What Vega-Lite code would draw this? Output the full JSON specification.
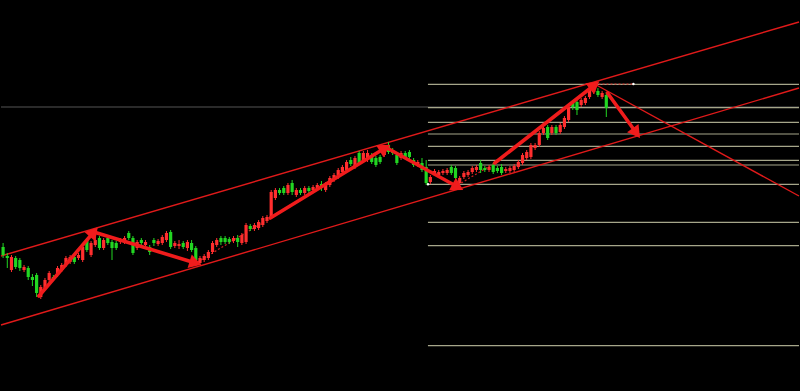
{
  "$schema": "https://vega.github.io/schema/vega-lite/v6.json",
  "width": 800,
  "height": 391,
  "autosize": {"type": "fit", "contains": "padding"},
  "padding": 0,
  "background": "#000000",
  "config": {"view": {"stroke": null}, "scale": {"continuousPadding": 0}},
  "datasets": {
    "candles": [
      {"i":0,"o":153,"c":145,"h":157,"l":142},
      {"i":1,"o":144,"c":142,"h":147,"l":132},
      {"i":2,"o":130,"c":143,"h":145,"l":128},
      {"i":3,"o":142,"c":133,"h":144,"l":131},
      {"i":4,"o":140,"c":132,"h":142,"l":129},
      {"i":5,"o":130,"c":133,"h":135,"l":128},
      {"i":6,"o":132,"c":123,"h":134,"l":120},
      {"i":7,"o":123,"c":120,"h":126,"l":114},
      {"i":8,"o":125,"c":107,"h":127,"l":103},
      {"i":9,"o":103,"c":113,"h":115,"l":101},
      {"i":10,"o":112,"c":120,"h":122,"l":110},
      {"i":11,"o":120,"c":127,"h":129,"l":118},
      {"i":12,"o":123,"c":121,"h":125,"l":119},
      {"i":13,"o":125,"c":132,"h":134,"l":123},
      {"i":14,"o":130,"c":135,"h":137,"l":128},
      {"i":15,"o":135,"c":142,"h":144,"l":133},
      {"i":16,"o":138,"c":143,"h":145,"l":136},
      {"i":17,"o":143,"c":138,"h":145,"l":136},
      {"i":18,"o":142,"c":145,"h":147,"l":140},
      {"i":19,"o":140,"c":153,"h":155,"l":138},
      {"i":20,"o":160,"c":150,"h":162,"l":148},
      {"i":21,"o":145,"c":157,"h":159,"l":143},
      {"i":22,"o":155,"c":160,"h":163,"l":153},
      {"i":23,"o":162,"c":152,"h":164,"l":150},
      {"i":24,"o":152,"c":160,"h":162,"l":150},
      {"i":25,"o":162,"c":157,"h":164,"l":155},
      {"i":26,"o":158,"c":152,"h":160,"l":140},
      {"i":27,"o":157,"c":152,"h":159,"l":150},
      {"i":28,"o":158,"c":160,"h":162,"l":156},
      {"i":29,"o":158,"c":162,"h":164,"l":156},
      {"i":30,"o":167,"c":162,"h":169,"l":160},
      {"i":31,"o":162,"c":147,"h":164,"l":145},
      {"i":32,"o":152,"c":158,"h":160,"l":150},
      {"i":33,"o":160,"c":157,"h":162,"l":155},
      {"i":34,"o":155,"c":158,"h":160,"l":153},
      {"i":35,"o":153,"c":148,"h":155,"l":145},
      {"i":36,"o":160,"c":157,"h":162,"l":154},
      {"i":37,"o":156,"c":159,"h":161,"l":154},
      {"i":38,"o":157,"c":163,"h":165,"l":155},
      {"i":39,"o":160,"c":167,"h":169,"l":158},
      {"i":40,"o":168,"c":153,"h":170,"l":151},
      {"i":41,"o":154,"c":157,"h":159,"l":152},
      {"i":42,"o":154,"c":156,"h":160,"l":151},
      {"i":43,"o":157,"c":153,"h":159,"l":151},
      {"i":44,"o":152,"c":158,"h":160,"l":149},
      {"i":45,"o":157,"c":150,"h":160,"l":148},
      {"i":46,"o":152,"c":140,"h":154,"l":137},
      {"i":47,"o":137,"c":142,"h":144,"l":135},
      {"i":48,"o":140,"c":144,"h":146,"l":138},
      {"i":49,"o":142,"c":148,"h":150,"l":140},
      {"i":50,"o":148,"c":157,"h":159,"l":146},
      {"i":51,"o":155,"c":160,"h":162,"l":153},
      {"i":52,"o":162,"c":158,"h":164,"l":155},
      {"i":53,"o":162,"c":158,"h":164,"l":156},
      {"i":54,"o":161,"c":158,"h":163,"l":156},
      {"i":55,"o":159,"c":162,"h":164,"l":157},
      {"i":56,"o":162,"c":158,"h":165,"l":153},
      {"i":57,"o":157,"c":165,"h":167,"l":155},
      {"i":58,"o":158,"c":175,"h":177,"l":156},
      {"i":59,"o":174,"c":171,"h":176,"l":169},
      {"i":60,"o":171,"c":175,"h":177,"l":169},
      {"i":61,"o":172,"c":178,"h":180,"l":170},
      {"i":62,"o":175,"c":182,"h":184,"l":173},
      {"i":63,"o":179,"c":183,"h":185,"l":177},
      {"i":64,"o":183,"c":208,"h":210,"l":181},
      {"i":65,"o":202,"c":210,"h":212,"l":200},
      {"i":66,"o":210,"c":207,"h":212,"l":205},
      {"i":67,"o":212,"c":207,"h":214,"l":205},
      {"i":68,"o":207,"c":215,"h":217,"l":205},
      {"i":69,"o":217,"c":208,"h":220,"l":205},
      {"i":70,"o":205,"c":210,"h":212,"l":203},
      {"i":71,"o":210,"c":207,"h":212,"l":205},
      {"i":72,"o":207,"c":212,"h":214,"l":205},
      {"i":73,"o":212,"c":209,"h":214,"l":207},
      {"i":74,"o":210,"c":213,"h":215,"l":208},
      {"i":75,"o":211,"c":215,"h":217,"l":209},
      {"i":76,"o":216,"c":212,"h":219,"l":209},
      {"i":77,"o":210,"c":216,"h":218,"l":208},
      {"i":78,"o":215,"c":222,"h":224,"l":213},
      {"i":79,"o":220,"c":225,"h":227,"l":218},
      {"i":80,"o":223,"c":230,"h":232,"l":221},
      {"i":81,"o":228,"c":233,"h":235,"l":225},
      {"i":82,"o":230,"c":238,"h":240,"l":228},
      {"i":83,"o":240,"c":236,"h":243,"l":234},
      {"i":84,"o":233,"c":242,"h":244,"l":231},
      {"i":85,"o":247,"c":237,"h":249,"l":235},
      {"i":86,"o":240,"c":247,"h":249,"l":238},
      {"i":87,"o":240,"c":247,"h":250,"l":238},
      {"i":88,"o":245,"c":238,"h":247,"l":236},
      {"i":89,"o":242,"c":235,"h":244,"l":233},
      {"i":90,"o":243,"c":238,"h":245,"l":236},
      {"i":91,"o":245,"c":250,"h":252,"l":243},
      {"i":92,"o":255,"c":248,"h":258,"l":246},
      {"i":93,"o":250,"c":247,"h":252,"l":245},
      {"i":94,"o":245,"c":237,"h":247,"l":235},
      {"i":95,"o":242,"c":247,"h":249,"l":240},
      {"i":96,"o":247,"c":243,"h":249,"l":241},
      {"i":97,"o":248,"c":243,"h":250,"l":241},
      {"i":98,"o":240,"c":235,"h":242,"l":233},
      {"i":99,"o":235,"c":238,"h":240,"l":233},
      {"i":100,"o":237,"c":230,"h":242,"l":228},
      {"i":101,"o":233,"c":217,"h":240,"l":215},
      {"i":102,"o":218,"c":223,"h":225,"l":216},
      {"i":103,"o":227,"c":229,"h":231,"l":225},
      {"i":104,"o":225,"c":228,"h":230,"l":223},
      {"i":105,"o":227,"c":229,"h":231,"l":225},
      {"i":106,"o":227,"c":230,"h":232,"l":225},
      {"i":107,"o":233,"c":227,"h":235,"l":225},
      {"i":108,"o":232,"c":222,"h":234,"l":220},
      {"i":109,"o":217,"c":222,"h":224,"l":215},
      {"i":110,"o":223,"c":227,"h":229,"l":221},
      {"i":111,"o":225,"c":228,"h":230,"l":223},
      {"i":112,"o":228,"c":232,"h":234,"l":226},
      {"i":113,"o":230,"c":233,"h":235,"l":228},
      {"i":114,"o":237,"c":230,"h":240,"l":227},
      {"i":115,"o":232,"c":230,"h":234,"l":228},
      {"i":116,"o":230,"c":233,"h":235,"l":228},
      {"i":117,"o":235,"c":228,"h":237,"l":226},
      {"i":118,"o":232,"c":229,"h":234,"l":227},
      {"i":119,"o":233,"c":227,"h":236,"l":225},
      {"i":120,"o":229,"c":231,"h":233,"l":227},
      {"i":121,"o":229,"c":232,"h":234,"l":227},
      {"i":122,"o":230,"c":234,"h":236,"l":228},
      {"i":123,"o":233,"c":238,"h":240,"l":231},
      {"i":124,"o":237,"c":245,"h":247,"l":235},
      {"i":125,"o":242,"c":248,"h":250,"l":240},
      {"i":126,"o":243,"c":255,"h":257,"l":241},
      {"i":127,"o":252,"c":255,"h":257,"l":250},
      {"i":128,"o":255,"c":267,"h":269,"l":253},
      {"i":129,"o":267,"c":272,"h":274,"l":265},
      {"i":130,"o":273,"c":262,"h":275,"l":260},
      {"i":131,"o":267,"c":273,"h":275,"l":265},
      {"i":132,"o":273,"c":267,"h":275,"l":265},
      {"i":133,"o":268,"c":275,"h":277,"l":266},
      {"i":134,"o":273,"c":282,"h":284,"l":271},
      {"i":135,"o":280,"c":293,"h":295,"l":278},
      {"i":136,"o":297,"c":293,"h":300,"l":290},
      {"i":137,"o":298,"c":290,"h":300,"l":285},
      {"i":138,"o":295,"c":300,"h":302,"l":293},
      {"i":139,"o":297,"c":302,"h":304,"l":295},
      {"i":140,"o":303,"c":310,"h":312,"l":301},
      {"i":141,"o":308,"c":315,"h":316,"l":306},
      {"i":142,"o":309,"c":305,"h":312,"l":303},
      {"i":143,"o":303,"c":307,"h":309,"l":301},
      {"i":144,"o":305,"c":292,"h":308,"l":283}
    ],
    "arrows": [
      {"id": "a1", "x1": 8.55, "p1": 104, "x2": 21.65, "p2": 168},
      {"id": "a2", "x1": 21.65, "p1": 168, "x2": 45.93, "p2": 137},
      {"id": "a3", "x1": 63.79, "p1": 182, "x2": 91.18, "p2": 252},
      {"id": "a4", "x1": 91.65, "p1": 252, "x2": 108.56, "p2": 213},
      {"id": "a6", "x1": 117.37, "p1": 237, "x2": 141.18, "p2": 315},
      {"id": "a7", "x1": 144.28, "p1": 307, "x2": 151.18, "p2": 267}
    ]
  },
  "layer": [
    {
      "data": {"values": [{"level": 293}]},
      "mark": {"type": "rule", "color": "#555555", "strokeWidth": 1},
      "encoding": {"y": {"field": "level", "type": "quantitative", "scale": {"domain": [9, 400], "nice": false, "zero": false, "padding": 0}, "axis": null}}
    },
    {
      "data": {"values": [
        {"from": 101.42, "to": 190, "level": 315.7},
        {"from": 101.42, "to": 190, "level": 292.3},
        {"from": 101.42, "to": 190, "level": 277.7},
        {"from": 101.42, "to": 190, "level": 266},
        {"from": 101.42, "to": 190, "level": 253.7},
        {"from": 101.42, "to": 190, "level": 239.7},
        {"from": 101.42, "to": 190, "level": 235},
        {"from": 101.42, "to": 190, "level": 215.7},
        {"from": 101.42, "to": 190, "level": 177.7},
        {"from": 101.42, "to": 190, "level": 154.3},
        {"from": 101.42, "to": 190, "level": 54.3}
      ]},
      "mark": {"type": "rule", "color": "#a6a68a", "strokeWidth": 1.2},
      "encoding": {
        "x": {"field": "from", "type": "quantitative", "scale": {"domain": [-0.5, 190], "nice": false, "zero": false, "padding": 0}, "axis": null},
        "x2": {"field": "to"},
        "y": {"field": "level", "type": "quantitative", "scale": {"domain": [9, 400], "nice": false, "zero": false, "padding": 0}, "axis": null}
      }
    },
    {
      "data": {"values": [
        {"x1": -0.5, "p1": 144, "x2": 190, "p2": 378},
        {"x1": -0.5, "p1": 75, "x2": 190, "p2": 312},
        {"x1": 141.18, "p1": 316, "x2": 190, "p2": 204}
      ]},
      "mark": {"type": "rule", "color": "#e01a1a", "strokeWidth": 1.4},
      "encoding": {
        "x": {"field": "x1", "type": "quantitative", "scale": {"domain": [-0.5, 190], "nice": false, "zero": false, "padding": 0}, "axis": null},
        "x2": {"field": "x2"},
        "y": {"field": "p1", "type": "quantitative", "scale": {"domain": [9, 400], "nice": false, "zero": false, "padding": 0}, "axis": null},
        "y2": {"field": "p2"}
      }
    },
    {
      "data": {"values": [
        {"x1": 46.41, "p1": 138, "x2": 63.79, "p2": 182},
        {"x1": 108.56, "p1": 215, "x2": 117.37, "p2": 237},
        {"x1": 141.18, "p1": 316, "x2": 150.47, "p2": 316}
      ]},
      "mark": {"type": "rule", "color": "#d02020", "strokeWidth": 1.2, "strokeDash": [2, 2]},
      "encoding": {
        "x": {"field": "x1", "type": "quantitative", "scale": {"domain": [-0.5, 190], "nice": false, "zero": false, "padding": 0}, "axis": null},
        "x2": {"field": "x2"},
        "y": {"field": "p1", "type": "quantitative", "scale": {"domain": [9, 400], "nice": false, "zero": false, "padding": 0}, "axis": null},
        "y2": {"field": "p2"}
      }
    },
    {
      "data": {"values": [{"x": 150.47, "p": 316}, {"x": 101.42, "p": 215.7}]},
      "mark": {"type": "point", "filled": true, "color": "#ffffff", "size": 6, "opacity": 1},
      "encoding": {
        "x": {"field": "x", "type": "quantitative", "scale": {"domain": [-0.5, 190], "nice": false, "zero": false, "padding": 0}, "axis": null},
        "y": {"field": "p", "type": "quantitative", "scale": {"domain": [9, 400], "nice": false, "zero": false, "padding": 0}, "axis": null}
      }
    },
    {
      "data": {"name": "candles"},
      "mark": {"type": "rule", "strokeWidth": 1},
      "encoding": {
        "x": {"field": "i", "type": "quantitative", "scale": {"domain": [-0.5, 190], "nice": false, "zero": false, "padding": 0}, "axis": null},
        "y": {"field": "l", "type": "quantitative", "scale": {"domain": [9, 400], "nice": false, "zero": false, "padding": 0}, "axis": null},
        "y2": {"field": "h"},
        "color": {"condition": {"test": "datum.c >= datum.o", "value": "#ff2e2e"}, "value": "#22d622"}
      }
    },
    {
      "data": {"name": "candles"},
      "mark": {"type": "bar", "size": 3.2},
      "encoding": {
        "x": {"field": "i", "type": "quantitative", "scale": {"domain": [-0.5, 190], "nice": false, "zero": false, "padding": 0}, "axis": null},
        "y": {"field": "o", "type": "quantitative", "scale": {"domain": [9, 400], "nice": false, "zero": false, "padding": 0}, "axis": null},
        "y2": {"field": "c"},
        "color": {"condition": {"test": "datum.c >= datum.o", "value": "#ff2e2e"}, "value": "#22d622"}
      }
    },
    {
      "data": {"name": "arrows"},
      "mark": {"type": "rule", "color": "#f01c1c", "strokeWidth": 3.6, "strokeCap": "round"},
      "encoding": {
        "x": {"field": "x1", "type": "quantitative", "scale": {"domain": [-0.5, 190], "nice": false, "zero": false, "padding": 0}, "axis": null},
        "x2": {"field": "x2"},
        "y": {"field": "p1", "type": "quantitative", "scale": {"domain": [9, 400], "nice": false, "zero": false, "padding": 0}, "axis": null},
        "y2": {"field": "p2"}
      }
    },
    {
      "data": {"name": "arrows"},
      "encoding": {
        "x": {"field": "x2", "type": "quantitative", "scale": {"domain": [-0.5, 190], "nice": false, "zero": false, "padding": 0}, "axis": null},
        "y": {"field": "p2", "type": "quantitative", "scale": {"domain": [9, 400], "nice": false, "zero": false, "padding": 0}, "axis": null}
      },
      "layer": [
        {"transform": [{"filter": "datum.id == 'a1'"}], "mark": {"type": "point", "filled": true, "color": "#f01c1c", "opacity": 1, "size": 200, "shape": "triangle-up", "angle": 40.7}},
        {"transform": [{"filter": "datum.id == 'a2'"}], "mark": {"type": "point", "filled": true, "color": "#f01c1c", "opacity": 1, "size": 200, "shape": "triangle-up", "angle": 106.9}},
        {"transform": [{"filter": "datum.id == 'a3'"}], "mark": {"type": "point", "filled": true, "color": "#f01c1c", "opacity": 1, "size": 200, "shape": "triangle-up", "angle": 58.7}},
        {"transform": [{"filter": "datum.id == 'a4'"}], "mark": {"type": "point", "filled": true, "color": "#f01c1c", "opacity": 1, "size": 200, "shape": "triangle-up", "angle": 118.8}},
        {"transform": [{"filter": "datum.id == 'a6'"}], "mark": {"type": "point", "filled": true, "color": "#f01c1c", "opacity": 1, "size": 200, "shape": "triangle-up", "angle": 52.0}},
        {"transform": [{"filter": "datum.id == 'a7'"}], "mark": {"type": "point", "filled": true, "color": "#f01c1c", "opacity": 1, "size": 200, "shape": "triangle-up", "angle": 144.1}}
      ]
    }
  ]
}
